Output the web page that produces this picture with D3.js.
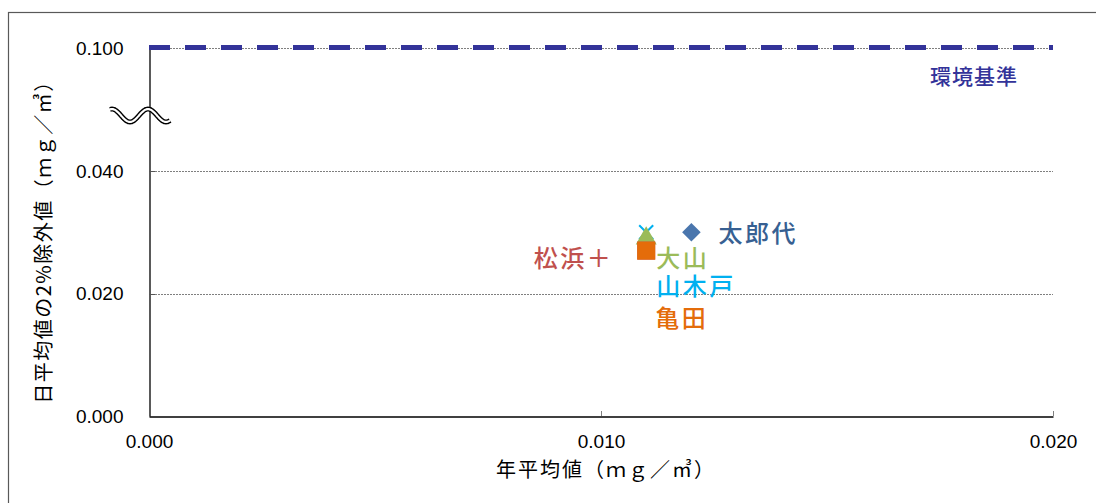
<!DOCTYPE html>
<html><head><meta charset="utf-8">
<script src="https://cdn.jsdelivr.net/npm/d3@7"></script>
<style>body{margin:0;background:#fff}svg{display:block}</style>
</head><body>
<svg id="c" width="1096" height="503"></svg>
<script>
// ---- data ----
const sites      = ["松浜＋", "亀田", "大山", "山木戸", "太郎代"];
const annualMean = [0.011, 0.011, 0.011, 0.011, 0.012];
const daily2pct  = [0.027, 0.027, 0.029, 0.030, 0.030];
const markers    = ["square", "square", "triangle", "cross", "diamond"];
const colors     = ["#c0504d", "#e46c0a", "#9bbb59", "#00b0f0", "#4a76ad"];
const labelColors= ["#c0504d", "#e46c0a", "#9bbb59", "#00b0f0", "#376092"];
const xTicks = [0, 0.010, 0.020];
const yTicks = [0, 0.020, 0.040, 0.100];
const standard = 0.100;
const standardLabel = "環境基準";
const xTitle = "年平均値（ｍｇ／㎥）";
const yTitle = "日平均値の2%除外値（ｍｇ／㎥）";

// ---- layout / styles ----
const labelOffsets = [[-33, 10, "end"], [9, 70, "start"], [10, 22, "start"], [10, 56, "start"], [27, 3, "start"]];
const svg = d3.select("#c");
const L = 149, R = 1053, T = 48, B = 416;
const x = d3.scaleLinear().domain([0, 0.020]).range([L, R]);
const y = d3.scaleLinear().domain([0, 0.040, 0.100]).range([B, 171, T]); // broken axis

// outer border
svg.append("rect").attr("x", 8.5).attr("y", 12.5).attr("width", 1200).attr("height", 600)
  .attr("fill", "none").attr("stroke", "#595959").attr("stroke-width", 1.2);

// gridlines
svg.append("g").selectAll("line").data(yTicks.filter(d => d > 0)).join("line")
  .attr("x1", L).attr("x2", R).attr("y1", d => Math.round(y(d)) + 0.5).attr("y2", d => Math.round(y(d)) + 0.5)
  .attr("stroke", "#7f7f7f").attr("stroke-width", 1).attr("stroke-dasharray", "2,1");

// y axis
const yAxis = d3.axisLeft(y).tickValues(yTicks).tickFormat(d3.format(".3f")).tickSize(0).tickPadding(26);
const gy = svg.append("g").attr("transform", `translate(${L + 0.5},0)`).call(yAxis);
gy.select(".domain").attr("stroke", "#000").attr("stroke-width", 1.3);
gy.selectAll("text").attr("font-family", "Liberation Sans, Arial, sans-serif").attr("font-size", 19).attr("fill", "#000");
svg.append("g").selectAll("line").data(yTicks.filter(d => d > 0 && d < standard)).join("line")
  .attr("x1", L).attr("x2", L + 6).attr("y1", d => Math.round(y(d)) + 0.5).attr("y2", d => Math.round(y(d)) + 0.5)
  .attr("stroke", "#555").attr("stroke-width", 1);

// x axis
const xAxis = d3.axisBottom(x).tickValues(xTicks).tickFormat(d3.format(".3f")).tickSize(0).tickPadding(18);
const gx = svg.append("g").attr("transform", `translate(0,${B + 0.5})`).call(xAxis);
gx.select(".domain").attr("stroke", "#000").attr("stroke-width", 1.3);
gx.selectAll("text").attr("font-family", "Liberation Sans, Arial, sans-serif").attr("font-size", 19).attr("fill", "#000");
svg.append("g").selectAll("line").data(xTicks.filter(d => d > 0)).join("line")
  .attr("x1", d => Math.round(x(d)) + 0.5).attr("x2", d => Math.round(x(d)) + 0.5)
  .attr("y1", B).attr("y2", B - 5).attr("stroke", "#808080").attr("stroke-width", 1);

// axis break symbol
const breakY = y(0.040) - 55.5;
const wave = d3.range(-39, 22, 1).map(dx => [L + dx, breakY - 6.5 * Math.cos(2 * Math.PI * (dx + 1) / 36)]);
const waveLine = d3.line().curve(d3.curveBasis);
svg.append("path").attr("d", waveLine(wave)).attr("fill", "none").attr("stroke", "#000").attr("stroke-width", 5);
svg.append("path").attr("d", waveLine(wave)).attr("fill", "none").attr("stroke", "#fff").attr("stroke-width", 2.2);

// environmental standard line
svg.append("line").attr("x1", L).attr("x2", R).attr("y1", y(standard) - 0.5).attr("y2", y(standard) - 0.5)
  .attr("stroke", "#333399").attr("stroke-width", 5).attr("stroke-dasharray", "21,15");
svg.append("text").attr("x", 974).attr("y", y(standard) + 30).attr("text-anchor", "middle")
  .attr("dominant-baseline", "middle").attr("font-family", "Noto Sans CJK JP").attr("font-size", 21)
  .attr("font-weight", 500).attr("letter-spacing", 1)
  .attr("fill", "#333399").text(standardLabel);

// points
const sym = {
  square: d3.symbol().type(d3.symbolSquare).size(324),
  triangle: d3.symbol().type(d3.symbolTriangle).size(190),
  diamond: d3.symbol().type(d3.symbolDiamond2).size(220),
  cross: d3.symbol().type(d3.symbolTimes).size(130)
};
const order = [4, 3, 2, 0, 1];
svg.append("g").selectAll("path").data(order).join("path")
  .attr("transform", i => `translate(${x(annualMean[i])},${y(daily2pct[i])})`)
  .attr("d", i => sym[markers[i]]())
  .attr("fill", i => markers[i] === "cross" ? "none" : colors[i])
  .attr("stroke", i => markers[i] === "cross" ? colors[i] : "none")
  .attr("stroke-width", 2);

// labels
svg.append("g").selectAll("text").data(d3.range(sites.length)).join("text")
  .attr("x", i => x(annualMean[i]) + labelOffsets[i][0])
  .attr("y", i => y(daily2pct[i]) + labelOffsets[i][1])
  .attr("text-anchor", i => labelOffsets[i][2])
  .attr("dominant-baseline", "middle")
  .attr("font-family", "Noto Sans CJK JP").attr("font-size", 24).attr("font-weight", 500)
  .attr("letter-spacing", 2.5)
  .attr("fill", i => labelColors[i]).text(i => sites[i]);

// axis titles
svg.append("text").attr("x", 606).attr("y", 472).attr("text-anchor", "middle").attr("dominant-baseline", "middle")
  .attr("font-family", "Noto Sans CJK JP").attr("font-size", 20).attr("letter-spacing", 2)
  .attr("fill", "#000").text(xTitle);
svg.append("text").attr("transform", "translate(46,237) rotate(-90)").attr("text-anchor", "middle")
  .attr("dominant-baseline", "middle").attr("font-family", "Noto Sans CJK JP").attr("font-size", 20)
  .attr("letter-spacing", 1.5)
  .attr("fill", "#000").text(yTitle);
</script>
</body></html>
